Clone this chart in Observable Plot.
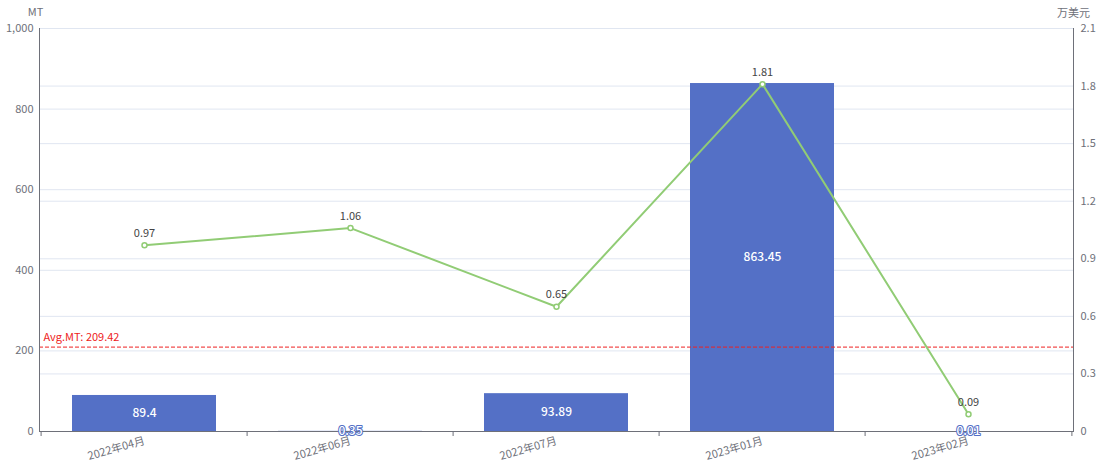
<!DOCTYPE html>
<html>
<head>
<meta charset="utf-8">
<script src="https://cdn.jsdelivr.net/npm/d3@7"></script>
<script src="https://cdn.jsdelivr.net/npm/@observablehq/plot@0.6"></script>
<style>
  html, body { margin: 0; padding: 0; background: #fff; }
</style>
</head>
<body>
<div id="chart"></div>
<script>
const months = ["2022年04月", "2022年06月", "2022年07月", "2023年01月", "2023年02月"];
const mtValues = [89.4, 0.35, 93.89, 863.45, 0.01];
const usdValues = [0.97, 1.06, 0.65, 1.81, 0.09];
const avgMT = 209.42;
const leftTicks = [0, 200, 400, 600, 800, 1000];
const rightTicks = [0, 0.3, 0.6, 0.9, 1.2, 1.5, 1.8, 2.1];
const leftMax = 1000, rightMax = 2.1;

const data = months.map((m, i) => ({ month: m, mt: mtValues[i], usd: usdValues[i] }));
const k = leftMax / rightMax;

const W = 1102, H = 466, ML = 39, MR = 29, MT = 28, MB = 35;
const step = (W - ML - MR) / months.length;

const axisColor = "#6e7079";
const gridColor = "#e0e6f1";
const barColor = "#5470c6";
const lineColor = "#91cc75";
const fmtRight = v => { const r = Math.round(v / k * 10) / 10; return r === 0 ? "0" : r.toFixed(1); };

const chart = Plot.plot({
  width: W, height: H,
  marginLeft: ML, marginRight: MR, marginTop: MT, marginBottom: MB,
  style: { fontFamily: "'Noto Sans CJK SC', 'Noto Sans', sans-serif", fontSize: "12px", background: "white", overflow: "visible" },
  x: { type: "band", domain: months, paddingInner: 0.3, paddingOuter: 0.15, axis: null },
  y: { domain: [0, leftMax], axis: null },
  marks: [
    Plot.ruleY(leftTicks.slice(1), { stroke: gridColor }),
    Plot.ruleY(rightTicks.slice(1).map(v => v * k), { stroke: gridColor }),
    Plot.barY(data, { x: "month", y: "mt", fill: barColor }),
    Plot.ruleY([avgMT], { stroke: "#ee2222", strokeDasharray: "4,2", strokeWidth: 1 }),
    Plot.text([`Avg.MT: ${avgMT}`], { y: [avgMT], frameAnchor: "left", text: d => d, textAnchor: "start", dx: 4, dy: -10, fill: "#ee2222", fontSize: 11 }),
    Plot.frame({ anchor: "left", stroke: axisColor }),
    Plot.frame({ anchor: "right", stroke: axisColor }),
    Plot.frame({ anchor: "bottom", stroke: axisColor }),
    Plot.axisX({ ticks: months, tickFormat: () => "", tickSize: 5, dx: -step / 2, stroke: axisColor, label: null }),
    Plot.axisX({ ticks: [months[months.length - 1]], tickFormat: () => "", tickSize: 5, dx: step / 2, stroke: axisColor, label: null }),
    Plot.text(data, { x: "month", y: 0, text: "month", rotate: -16, textAnchor: "end", lineAnchor: "middle", dy: 9, fill: axisColor, fontSize: 11 }),
    Plot.text(data, { x: "month", y: d => d.mt / 2, text: d => String(d.mt), fill: "white", stroke: barColor, strokeWidth: 2, fontSize: 12, fontWeight: 500 }),
    Plot.line(data, { x: "month", y: d => d.usd * k, stroke: lineColor, strokeWidth: 2 }),
    Plot.dot(data, { x: "month", y: d => d.usd * k, r: 2.5, fill: "white", stroke: lineColor, strokeWidth: 1.5 }),
    Plot.text(data, { x: "month", y: d => d.usd * k, text: d => String(d.usd), dy: -12, fill: "#444", fontSize: 11 }),
    Plot.axisY({ anchor: "left", ticks: leftTicks, tickFormat: d3.format(","), tickSize: 0, tickPadding: 6, fill: axisColor, label: null, fontSize: 11 }),
    Plot.axisY({ anchor: "right", ticks: rightTicks.map(v => v * k), tickFormat: fmtRight, tickSize: 0, tickPadding: 7, fill: axisColor, label: null, fontSize: 11 }),
    Plot.text(["MT"], { frameAnchor: "top-left", text: d => d, textAnchor: "middle", dx: -4, dy: -20, fill: axisColor, fontSize: 11 }),
    Plot.text(["万美元"], { frameAnchor: "top-right", text: d => d, textAnchor: "middle", dy: -19, fill: axisColor, fontSize: 11 })
  ]
});
document.getElementById("chart").appendChild(chart);
</script>
</body>
</html>
